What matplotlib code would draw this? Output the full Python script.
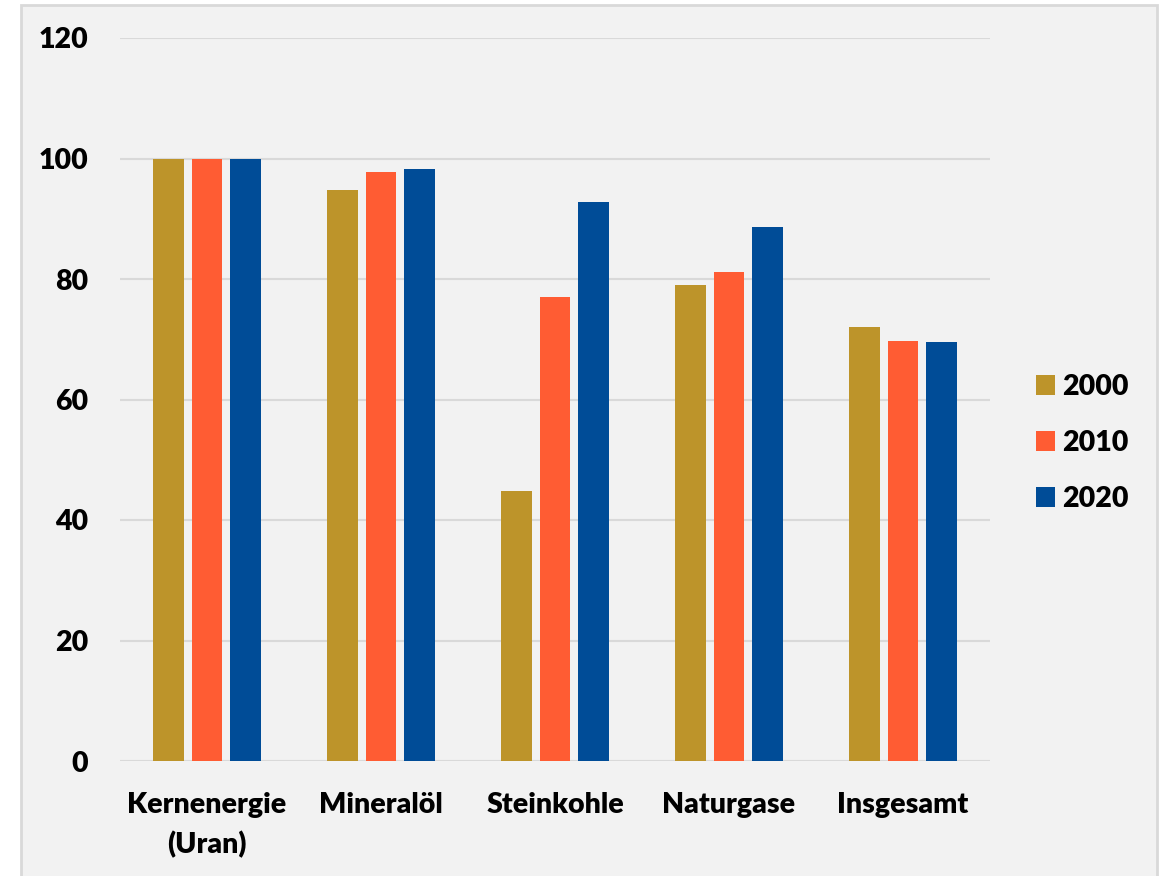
import numpy as np
import matplotlib.pyplot as plt
from matplotlib.patches import Rectangle

categories = ["Kernenergie\n(Uran)", "Mineralöl", "Steinkohle", "Naturgase", "Insgesamt"]
years = ["2000", "2010", "2020"]
values_2000 = [100, 94.8, 44.8, 79.0, 72.0]
values_2010 = [100, 97.8, 77.0, 81.2, 69.7]
values_2020 = [100, 98.3, 92.8, 88.6, 69.5]
colors = ["#bd942a", "#ff5c33", "#004c97"]

plt.rcParams["font.family"] = ["Lato", "DejaVu Sans"]
FW = 800

W, H = 1163, 876
fig = plt.figure(figsize=(W / 100, H / 100), dpi=100)
fig.patch.set_facecolor("white")

# grey panel with a light frame, open at the bottom
fig.patches.append(Rectangle((21 / W, -0.05), (1157 - 21) / W, (H - 5) / H + 0.05,
                             transform=fig.transFigure, facecolor="#f2f2f2",
                             edgecolor="#d9d9d9", linewidth=2, zorder=-10))

ax = fig.add_axes([120 / W, 1 - 761 / H, (990 - 120) / W, (761 - 38) / H])
ax.set_facecolor("none")

x = np.arange(len(categories))
step = 0.224
width = 0.178
for i, (vals, lab) in enumerate(zip([values_2000, values_2010, values_2020], years)):
    ax.bar(x + (i - 1) * step, vals, width, color=colors[i], label=lab, zorder=3)

ax.set_xlim(-0.5, len(categories) - 0.5)
ax.set_ylim(0, 120)
ax.set_yticks(range(0, 121, 20))
ax.yaxis.grid(True, color="#d9d9d9", linewidth=1.5, zorder=0)
for s in ax.spines.values():
    s.set_visible(False)
ax.tick_params(length=0, colors="black")
ax.tick_params(axis="y", pad=23, labelsize=20.5)
ax.tick_params(axis="x", pad=22, labelsize=20.5)
ax.set_xticks(x)
ax.set_xticklabels(categories, fontweight=FW, linespacing=1.6)
for t in ax.get_yticklabels():
    t.set_fontweight(FW)

leg = ax.legend(loc="center left", bbox_to_anchor=(1036 / W, 1 - 443 / H),
                bbox_transform=fig.transFigure, frameon=False,
                borderaxespad=0, borderpad=0,
                prop={"weight": FW, "size": 20.5}, handlelength=0.68,
                handleheight=0.68, handletextpad=0.25, labelspacing=1.05)

fig.savefig("out.png", dpi=100, facecolor=fig.get_facecolor())
